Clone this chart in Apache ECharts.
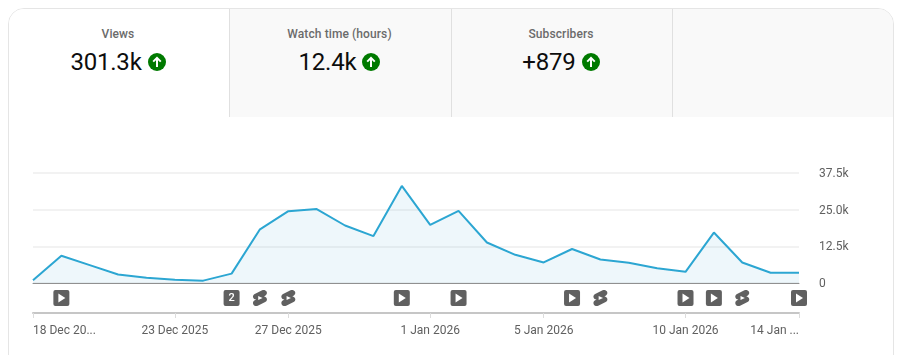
<!DOCTYPE html>
<html>
<head>
<meta charset="utf-8">
<script src="https://cdn.jsdelivr.net/npm/echarts@6/dist/echarts.min.js"></script>
<style>
  html, body { margin: 0; padding: 0; background: #fff; overflow: hidden; }
  body { width: 903px; height: 355px; position: relative; font-family: Roboto, sans-serif; }
  .card {
    position: absolute; left: 8px; top: 8px; width: 884px; height: 400px;
    border: 1px solid #e5e5e5; border-radius: 16px; overflow: hidden;
  }
  .tabs { display: flex; height: 108px; }
  .tab { box-sizing: border-box; width: 221px; padding-right: 2px; background: #f9f9f9; border-right: 1px solid #e0e0e0; text-align: center; }
  .tab:first-child { background: #fff; }
  .tab:nth-child(2) { width: 222px; }
  .tab:last-child { width: 220px; border-right: 0; }
  .tab .title { margin-top: 18px; height: 14px; line-height: 14px; font-size: 12px; font-weight: 500; letter-spacing: 0.1px; color: #6b6b6b; }
  .tab .value {
    margin-top: 7px; height: 28px; display: flex; justify-content: center; align-items: center;
    font-size: 24px; letter-spacing: -0.2px; color: #0d0d0d;
  }
  .tab svg { margin-left: 6px; }
  #chart { position: absolute; left: 0; top: 0; width: 903px; height: 355px; }
</style>
</head>
<body>
<div class="card"><div class="tabs" id="tabs"></div></div>
<div id="chart"></div>
<script>
const tabTitles = ['Views', 'Watch time (hours)', 'Subscribers', ''];
const tabValues = ['301.3k', '12.4k', '+879', ''];

const days = [
  '18 Dec 2025', '19 Dec 2025', '20 Dec 2025', '21 Dec 2025', '22 Dec 2025', '23 Dec 2025', '24 Dec 2025',
  '25 Dec 2025', '26 Dec 2025', '27 Dec 2025', '28 Dec 2025', '29 Dec 2025', '30 Dec 2025', '31 Dec 2025',
  '1 Jan 2026', '2 Jan 2026', '3 Jan 2026', '4 Jan 2026', '5 Jan 2026', '6 Jan 2026', '7 Jan 2026',
  '8 Jan 2026', '9 Jan 2026', '10 Jan 2026', '11 Jan 2026', '12 Jan 2026', '13 Jan 2026', '14 Jan 2026'
];
const views = [
  900, 9300, 6100, 2900, 1800, 1100, 800,
  3200, 18300, 24500, 25200, 19600, 16000, 33100,
  19800, 24600, 13800, 9600, 7000, 11600, 8000,
  6900, 5000, 3800, 17200, 7000, 3500, 3500
];
const tickLabels = {
  '18 Dec 2025': '18 Dec 20...',
  '23 Dec 2025': '23 Dec 2025',
  '27 Dec 2025': '27 Dec 2025',
  '1 Jan 2026': '1 Jan 2026',
  '5 Jan 2026': '5 Jan 2026',
  '10 Jan 2026': '10 Jan 2026',
  '14 Jan 2026': '14 Jan ...'
};
const yTicks = [0, 12500, 25000, 37500];

const videoDays = ['19 Dec 2025', '31 Dec 2025', '2 Jan 2026', '6 Jan 2026', '10 Jan 2026', '11 Jan 2026', '14 Jan 2026'];
const shortsDays = ['26 Dec 2025', '27 Dec 2025', '7 Jan 2026', '12 Jan 2026'];
const multiDays = ['25 Dec 2025'];
const multiCount = '2';

const arrowIcon =
  '<svg width="18" height="18" viewBox="0 0 18 18"><circle cx="9" cy="9" r="9" fill="#007a00"/>' +
  '<path d="M9 14V5M5.2 8.6 9 4.8l3.8 3.8" fill="none" stroke="#fff" stroke-width="2"/></svg>';

document.getElementById('tabs').innerHTML = tabTitles.map((title, i) =>
  '<div class="tab"><div class="title">' + title + '</div><div class="value">' +
  (tabValues[i] ? '<span>' + tabValues[i] + '</span>' + arrowIcon : '') + '</div></div>'
).join('');

const shortsPath = 'M17.77 10.32l-1.2-.5L18 9.06c1.84-.96 2.53-3.23 1.56-5.06s-3.24-2.53-5.07-1.56L6 6.94c-1.29.68-2.07 2.04-2 3.49.07 1.42.93 2.67 2.22 3.25.03.01 1.2.5 1.2.5L6 14.93c-1.83.97-2.53 3.24-1.56 5.07.97 1.83 3.24 2.53 5.07 1.56l8.5-4.5c1.29-.68 2.06-2.04 1.99-3.49-.07-1.42-.94-2.68-2.23-3.25zM10 14.65v-5.3L15 12l-5 2.65z';

const markers = [
  ...videoDays.map(d => [d, 'video']),
  ...shortsDays.map(d => [d, 'shorts']),
  ...multiDays.map(d => [d, 'multi'])
];

function renderMarker(params, api) {
  const pos = api.coord([api.value(0), 0.5]);
  const kind = markers[params.dataIndex][1];
  if (kind === 'shorts') {
    return {
      type: 'path',
      shape: { pathData: shortsPath, layout: 'cover', x: pos[0] - 7, y: pos[1] - 8, width: 14, height: 16 },
      style: { fill: '#606060', fillRule: 'evenodd' }
    };
  }
  const box = {
    type: 'rect',
    shape: { x: pos[0] - 8, y: pos[1] - 8, width: 16, height: 16, r: 2 },
    style: { fill: '#606060' }
  };
  const inner = kind === 'video'
    ? {
        type: 'polygon',
        shape: { points: [[pos[0] - 3, pos[1] - 4.5], [pos[0] + 4, pos[1]], [pos[0] - 3, pos[1] + 4.5]] },
        style: { fill: '#fff' }
      }
    : {
        type: 'text',
        style: {
          text: multiCount, x: pos[0], y: pos[1], fill: '#fff', align: 'center', verticalAlign: 'middle',
          font: '500 11px Roboto'
        }
      };
  return { type: 'group', children: [box, inner] };
}

const myChart = echarts.init(document.getElementById('chart'));
const option = {
  animation: false,
  textStyle: { fontFamily: 'Roboto' },
  grid: [
    { left: 33, width: 766, top: 173, height: 110 },
    { left: 33, width: 766, top: 283, height: 30 }
  ],
  xAxis: [
    {
      type: 'category',
      gridIndex: 0,
      data: days,
      boundaryGap: false,
      axisLine: { lineStyle: { color: '#909090', width: 1 } },
      axisTick: { show: false },
      axisLabel: { show: false }
    },
    {
      type: 'category',
      gridIndex: 1,
      data: days,
      boundaryGap: false,
      axisLine: { lineStyle: { color: '#c6c6c6', width: 2 } },
      axisTick: {
        length: 5,
        lineStyle: { color: '#dcdcdc' },
        interval: (i, d) => d in tickLabels
      },
      axisLabel: {
        color: '#606060',
        fontSize: 12,
        margin: 12,
        alignMinLabel: 'left',
        alignMaxLabel: 'right',
        interval: (i, d) => d in tickLabels,
        formatter: d => tickLabels[d]
      }
    }
  ],
  yAxis: [
    {
      type: 'value',
      gridIndex: 0,
      position: 'right',
      min: yTicks[0],
      max: yTicks[3],
      interval: yTicks[1],
      axisLine: { show: false },
      axisTick: { show: false },
      splitLine: { lineStyle: { color: '#eeeeee', width: 1.5 } },
      axisLabel: {
        margin: 20,
        formatter: v => '{v|' + (v === 0 ? '0' : (v / 1000).toFixed(1) + 'k') + '}',
        rich: { v: { color: '#606060', fontSize: 12, padding: [2, 0, 0, 0] } }
      }
    },
    { type: 'value', gridIndex: 1, min: 0, max: 1, show: false }
  ],
  series: [
    {
      name: 'Views',
      type: 'line',
      data: views,
      symbol: 'none',
      lineStyle: { color: '#2ca6d2', width: 2 },
      areaStyle: { color: 'rgba(63,163,213,0.12)' }
    },
    {
      name: 'Uploads',
      type: 'custom',
      xAxisIndex: 1,
      yAxisIndex: 1,
      clip: false,
      data: markers,
      renderItem: renderMarker
    }
  ]
};
myChart.setOption(option);
window.addEventListener('resize', () => {
  myChart.resize();
});
</script>
</body>
</html>
